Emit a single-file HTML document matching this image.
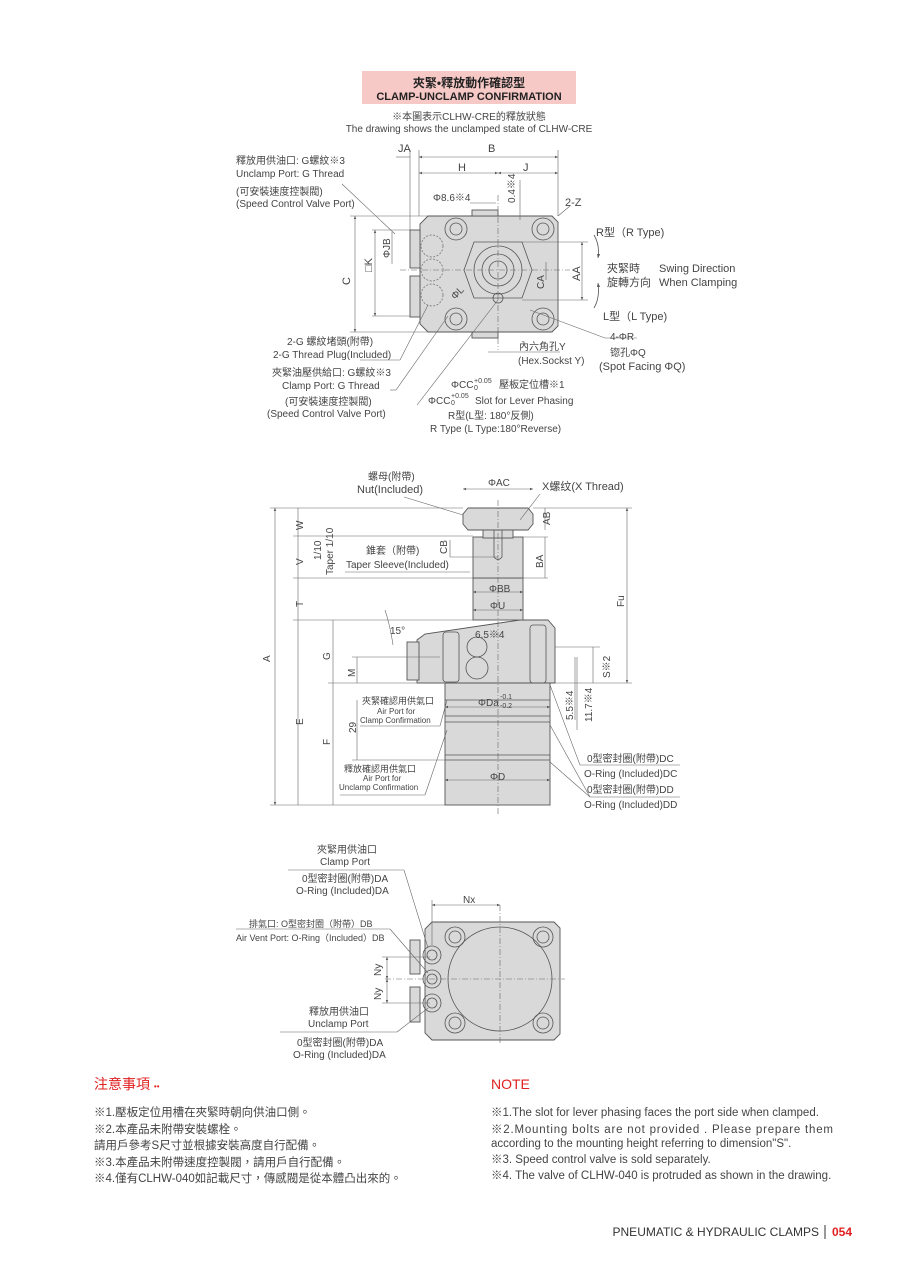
<!DOCTYPE html>
<html><head><meta charset="utf-8"><style>
body{margin:0;background:#fff}
svg{display:block}
text{font-family:"Liberation Sans","Noto Sans CJK TC",sans-serif;fill:#444}
.s{font-size:10px}
.m{font-size:11px}
.l{stroke:#555;stroke-width:.8;fill:none}
.t{stroke:#666;stroke-width:.6;fill:none}
.b{fill:#d9d9d9;stroke:#555;stroke-width:.9}
.d{stroke:#666;stroke-width:.6;fill:none;stroke-dasharray:6 2 1 2}
.ds{stroke:#666;stroke-width:.7;fill:none;stroke-dasharray:2 1.5}
</style></head><body>
<svg width="900" height="1273" viewBox="0 0 900 1273" xmlns="http://www.w3.org/2000/svg">
<defs><marker id="a" markerWidth="6" markerHeight="6" refX="5" refY="3" orient="auto-start-reverse"><path d="M0,1 L5,3 L0,5z" fill="#555"/></marker></defs>
<!-- header -->
<rect x="362" y="71" width="214" height="33" fill="#f7c9c6"/>
<text x="469" y="87" text-anchor="middle" style="font-size:12px;font-weight:bold;fill:#222">夾緊•釋放動作確認型</text>
<text x="469" y="100" text-anchor="middle" style="font-size:11px;font-weight:bold;fill:#222">CLAMP-UNCLAMP CONFIRMATION</text>
<text x="469" y="120" text-anchor="middle" class="s">※本圖表示CLHW-CRE的釋放狀態</text>
<text x="469" y="132" text-anchor="middle" class="s">The drawing shows the unclamped state of CLHW-CRE</text>

<!-- TOP VIEW -->
<path class="b" d="M428,216 H552 L558,222 V326 L552,332 H428 L420,324 V224z"/>
<rect class="b" x="410" y="230" width="10" height="38"/>
<rect class="b" x="410" y="276" width="10" height="41"/>
<rect class="b" x="472" y="210" width="26" height="6"/>
<rect class="b" x="472" y="332" width="26" height="6"/>
<g class="l">
<circle cx="456" cy="229" r="11"/><circle cx="456" cy="229" r="6"/>
<circle cx="543" cy="229" r="11"/><circle cx="543" cy="229" r="6"/>
<circle cx="456" cy="319" r="11"/><circle cx="456" cy="319" r="6"/>
<circle cx="543" cy="319" r="11"/><circle cx="543" cy="319" r="6"/>
<path d="M474,242 L522,242 L532,270 L522,298 L474,298 L464,270z"/>
<circle cx="498" cy="270" r="24"/><circle cx="498" cy="270" r="16"/><circle cx="498" cy="270" r="9"/>
<circle cx="498" cy="298" r="5"/>
</g>
<g class="ds"><circle cx="432" cy="246" r="11"/><circle cx="432" cy="270" r="11"/><circle cx="432" cy="295" r="11"/></g>
<g class="d"><line x1="498" y1="195" x2="498" y2="350"/><line x1="400" y1="270" x2="570" y2="270"/></g>
<!-- dims top -->
<g class="t">
<line x1="419" y1="157" x2="558" y2="157" marker-start="url(#a)" marker-end="url(#a)"/>
<line x1="419" y1="173" x2="498" y2="173" marker-start="url(#a)" marker-end="url(#a)"/>
<line x1="498" y1="173" x2="558" y2="173" marker-start="url(#a)" marker-end="url(#a)"/>
<line x1="419" y1="150" x2="419" y2="216"/><line x1="558" y1="150" x2="558" y2="216"/>
<line x1="410" y1="150" x2="410" y2="230"/><line x1="396" y1="157" x2="410" y2="157"/>
<line x1="355" y1="216" x2="355" y2="332" marker-start="url(#a)" marker-end="url(#a)"/>
<line x1="350" y1="216" x2="428" y2="216"/><line x1="350" y1="332" x2="428" y2="332"/>
<line x1="375" y1="230" x2="375" y2="316" marker-start="url(#a)" marker-end="url(#a)"/>
<line x1="372" y1="230" x2="410" y2="230"/><line x1="372" y1="316" x2="410" y2="316"/>
<line x1="392" y1="232" x2="392" y2="264"/>
<line x1="582" y1="242" x2="582" y2="300" marker-start="url(#a)" marker-end="url(#a)"/>
<line x1="522" y1="242" x2="588" y2="242"/><line x1="522" y1="300" x2="588" y2="300"/>
<line x1="546" y1="262" x2="546" y2="280"/>
<line x1="470" y1="203" x2="496" y2="203"/><line x1="520" y1="180" x2="520" y2="220"/>
<line x1="488" y1="352" x2="560" y2="352"/>
<line x1="395" y1="234" x2="342" y2="184"/>
<line x1="360" y1="360" x2="400" y2="360"/><line x1="400" y1="360" x2="428" y2="305"/>
<line x1="390" y1="390" x2="396" y2="390"/><line x1="396" y1="390" x2="448" y2="316"/>
<line x1="417" y1="405" x2="498" y2="300"/>
<line x1="530" y1="310" x2="605" y2="338"/><line x1="605" y1="338" x2="637" y2="338"/>
<line x1="558" y1="216" x2="570" y2="206"/>
</g>
<path d="M594,235 Q600,245 598,258" class="l" marker-end="url(#a)"/>
<path d="M594,308 Q600,298 598,283" class="l" marker-end="url(#a)"/>
<text x="398" y="152" class="m">JA</text>
<text x="488" y="152" class="m">B</text>
<text x="458" y="171" class="m">H</text>
<text x="523" y="171" class="m">J</text>
<text x="433" y="201" class="s">Φ8.6※4</text>
<text x="515" y="203" class="s" transform="rotate(-90 515 203)">0.4※4</text>
<text x="565" y="206" class="m">2-Z</text>
<text x="350" y="285" class="m" transform="rotate(-90 350 285)">C</text>
<text x="372" y="272" class="m" transform="rotate(-90 372 272)">□K</text>
<text x="390" y="258" class="s" transform="rotate(-90 390 258)">ΦJB</text>
<text x="544" y="289" class="s" transform="rotate(-90 544 289)">CA</text>
<text x="580" y="281" class="m" transform="rotate(-90 580 281)">AA</text>
<text x="455" y="300" class="s" transform="rotate(-45 455 300)">ΦL</text>
<text x="596" y="236" class="m">R型（R Type)</text>
<text x="607" y="272" class="m">夾緊時</text><text x="659" y="272" class="m">Swing Direction</text>
<text x="607" y="286" class="m">旋轉方向</text><text x="659" y="286" class="m">When Clamping</text>
<text x="603" y="320" class="m">L型（L Type)</text>
<text x="610" y="340" class="s">4-ΦR</text>
<text x="610" y="356" class="s">锪孔ΦQ</text>
<text x="599" y="370" class="m">(Spot Facing ΦQ)</text>
<text x="519" y="350" class="s">內六角孔Y</text>
<text x="518" y="364" class="s">(Hex.Sockst Y)</text>
<text x="236" y="164" class="s">釋放用供油口:  G螺紋※3</text>
<text x="236" y="177" class="s">Unclamp Port: G Thread</text>
<text x="236" y="195" class="s">(可安裝速度控製閥)</text>
<text x="236" y="207" class="s">(Speed Control Valve Port)</text>
<text x="287" y="345" class="s">2-G 螺紋堵頭(附帶)</text>
<text x="273" y="358" class="s">2-G Thread Plug(Included)</text>
<text x="272" y="376" class="s">夾緊油壓供給口:  G螺紋※3</text>
<text x="282" y="389" class="s">Clamp Port: G Thread</text>
<text x="285" y="405" class="s">(可安裝速度控製閥)</text>
<text x="267" y="417" class="s">(Speed Control Valve Port)</text>
<text x="451" y="388" class="s">ΦCC</text><text x="474" y="383" style="font-size:7px">+0.05</text><text x="474" y="390" style="font-size:7px">0</text><text x="499" y="388" class="s">壓板定位槽※1</text>
<text x="428" y="404" class="s">ΦCC</text><text x="451" y="398" style="font-size:7px">+0.05</text><text x="451" y="405" style="font-size:7px">0</text><text x="475" y="404" class="s">Slot for Lever Phasing</text>
<text x="448" y="419" class="s">R型(L型: 180°反側)</text>
<text x="430" y="432" class="s">R Type (L Type:180°Reverse)</text>

<!-- SIDE VIEW -->
<rect class="b" x="445" y="683" width="105" height="122"/>
<g class="l"><line x1="445" y1="700" x2="550" y2="700"/><line x1="445" y1="716" x2="550" y2="716"/><line x1="445" y1="722" x2="550" y2="722"/><line x1="445" y1="755" x2="550" y2="755"/><line x1="445" y1="760" x2="550" y2="760"/></g>
<path class="b" d="M417,683 V640 L425,634 L520,620 L548,620 L555,628 V683z"/>
<rect class="b" x="407" y="642" width="12" height="38"/>
<rect class="b" x="473" y="578" width="50" height="42"/>
<rect class="b" x="473" y="537" width="50" height="41"/>
<path class="b" d="M463,514 L468,508 H528 L533,514 V524 L528,530 H468 L463,524z"/>
<rect class="b" x="483" y="530" width="30" height="8"/>
<g class="l">
<circle cx="477" cy="668" r="11"/><circle cx="477" cy="647" r="10"/>
<rect x="443" y="632" width="16" height="50" rx="3"/><rect x="530" y="625" width="16" height="58" rx="3"/>
<path d="M494,530 V557 Q498,562 502,557 V530"/>
</g>
<g class="d"><line x1="498" y1="500" x2="498" y2="815"/></g>
<g class="t">
<line x1="275" y1="508" x2="275" y2="805" marker-start="url(#a)" marker-end="url(#a)"/>
<line x1="298" y1="508" x2="298" y2="805"/>
<line x1="270" y1="508" x2="463" y2="508"/><line x1="270" y1="805" x2="445" y2="805"/>
<line x1="293" y1="536" x2="473" y2="536"/><line x1="293" y1="578" x2="473" y2="578"/>
<line x1="293" y1="620" x2="473" y2="620"/>
<line x1="333" y1="620" x2="333" y2="805"/><line x1="328" y1="683" x2="445" y2="683"/>
<line x1="357" y1="657" x2="357" y2="683"/><line x1="352" y1="657" x2="440" y2="657"/>
<line x1="357" y1="700" x2="357" y2="760"/><line x1="352" y1="760" x2="445" y2="760"/>
<line x1="627" y1="508" x2="627" y2="683" marker-start="url(#a)" marker-end="url(#a)"/>
<line x1="533" y1="508" x2="632" y2="508"/><line x1="555" y1="683" x2="632" y2="683"/>
<line x1="593" y1="647" x2="593" y2="683"/><line x1="555" y1="647" x2="600" y2="647"/>
<line x1="575" y1="657" x2="575" y2="720"/><line x1="577" y1="657" x2="577" y2="730"/>
<line x1="545" y1="508" x2="545" y2="530"/><line x1="523" y1="537" x2="548" y2="537"/>
<line x1="545" y1="537" x2="545" y2="578"/><line x1="523" y1="578" x2="548" y2="578"/>
<line x1="450" y1="540" x2="450" y2="557"/><line x1="450" y1="557" x2="498" y2="557"/>
<line x1="463" y1="489" x2="533" y2="489" marker-start="url(#a)" marker-end="url(#a)"/>
<line x1="473" y1="592" x2="523" y2="592" marker-start="url(#a)" marker-end="url(#a)"/>
<line x1="473" y1="610" x2="523" y2="610" marker-start="url(#a)" marker-end="url(#a)"/>
<line x1="445" y1="707" x2="550" y2="707" marker-start="url(#a)" marker-end="url(#a)"/>
<line x1="445" y1="780" x2="550" y2="780" marker-start="url(#a)" marker-end="url(#a)"/>
<line x1="345" y1="572" x2="470" y2="572"/>
<line x1="404" y1="497" x2="463" y2="515"/><line x1="540" y1="494" x2="520" y2="520"/>
<line x1="360" y1="726" x2="440" y2="726"/><line x1="440" y1="726" x2="447" y2="700"/>
<line x1="340" y1="795" x2="425" y2="795"/><line x1="425" y1="795" x2="447" y2="730"/>
<line x1="580" y1="765" x2="680" y2="765"/><line x1="580" y1="765" x2="550" y2="685"/>
<line x1="590" y1="797" x2="680" y2="797"/><line x1="590" y1="797" x2="550" y2="725"/><line x1="590" y1="797" x2="550" y2="762"/>
<path d="M385,610 Q390,625 393,645"/>
</g>
<text x="368" y="480" class="s">螺母(附帶)</text>
<text x="357" y="493" class="m">Nut(Included)</text>
<text x="488" y="486" class="s">ΦAC</text>
<text x="542" y="490" class="m">X螺纹(X Thread)</text>
<text x="550" y="525" class="s" transform="rotate(-90 550 525)">AB</text>
<text x="303" y="530" class="s" transform="rotate(-90 303 530)">W</text>
<text x="303" y="565" class="s" transform="rotate(-90 303 565)">V</text>
<text x="321" y="560" class="s" transform="rotate(-90 321 560)">1/10</text>
<text x="333" y="575" class="s" transform="rotate(-90 333 575)">Taper 1/10</text>
<text x="366" y="554" class="s">錐套（附帶)</text>
<text x="346" y="568" class="s">Taper Sleeve(Included)</text>
<text x="447" y="554" class="s" transform="rotate(-90 447 554)">CB</text>
<text x="543" y="568" class="s" transform="rotate(-90 543 568)">BA</text>
<text x="489" y="592" class="s">ΦBB</text>
<text x="490" y="609" class="s">ΦU</text>
<text x="303" y="607" class="s" transform="rotate(-90 303 607)">T</text>
<text x="624" y="607" class="s" transform="rotate(-90 624 607)">Fu</text>
<text x="270" y="662" class="s" transform="rotate(-90 270 662)">A</text>
<text x="330" y="660" class="s" transform="rotate(-90 330 660)">G</text>
<text x="355" y="677" class="s" transform="rotate(-90 355 677)">M</text>
<text x="390" y="634" class="s">15°</text>
<text x="475" y="638" class="s">6.5※4</text>
<text x="610" y="678" class="s" transform="rotate(-90 610 678)">S※2</text>
<text x="478" y="706" class="s">ΦDa</text><text x="500" y="699" style="font-size:7px">-0.1</text><text x="500" y="708" style="font-size:7px">-0.2</text>
<text x="573" y="720" class="s" transform="rotate(-90 573 720)">5.5※4</text>
<text x="592" y="722" class="s" transform="rotate(-90 592 722)">11.7※4</text>
<text x="303" y="725" class="s" transform="rotate(-90 303 725)">E</text>
<text x="330" y="745" class="s" transform="rotate(-90 330 745)">F</text>
<text x="356" y="733" class="s" transform="rotate(-90 356 733)">29</text>
<text x="362" y="704" style="font-size:9px">夾緊確認用供氣口</text>
<text x="377" y="714" style="font-size:8px">Air Port for</text>
<text x="360" y="723" style="font-size:8px">Clamp Confirmation</text>
<text x="344" y="772" style="font-size:9px">釋放確認用供氣口</text>
<text x="363" y="781" style="font-size:8px">Air Port for</text>
<text x="339" y="790" style="font-size:8px">Unclamp Confirmation</text>
<text x="490" y="780" class="s">ΦD</text>
<text x="587" y="762" class="s">0型密封圈(附帶)DC</text>
<text x="584" y="777" class="s">O-Ring (Included)DC</text>
<text x="587" y="793" class="s">0型密封圈(附帶)DD</text>
<text x="584" y="808" class="s">O-Ring (Included)DD</text>

<!-- BOTTOM VIEW -->
<path class="b" d="M432,922 H554 L560,928 V1034 L554,1040 H432 L425,1033 V929z"/>
<rect class="b" x="410" y="940" width="10" height="34"/>
<rect class="b" x="410" y="987" width="10" height="35"/>
<g class="l">
<circle cx="500" cy="979" r="52"/>
<circle cx="455" cy="937" r="10"/><circle cx="455" cy="937" r="6"/>
<circle cx="543" cy="937" r="10"/><circle cx="543" cy="937" r="6"/>
<circle cx="455" cy="1023" r="10"/><circle cx="455" cy="1023" r="6"/>
<circle cx="543" cy="1023" r="10"/><circle cx="543" cy="1023" r="6"/>
<circle cx="432" cy="955" r="9"/><circle cx="432" cy="955" r="5"/>
<circle cx="432" cy="979" r="9"/><circle cx="432" cy="979" r="5"/>
<circle cx="432" cy="1003" r="9"/><circle cx="432" cy="1003" r="5"/>
</g>
<g class="d"><line x1="500" y1="905" x2="500" y2="1045"/><line x1="385" y1="979" x2="565" y2="979"/></g>
<g class="t">
<line x1="432" y1="905" x2="500" y2="905" marker-start="url(#a)" marker-end="url(#a)"/>
<line x1="432" y1="900" x2="432" y2="945"/>
<line x1="387" y1="957" x2="387" y2="979" marker-start="url(#a)" marker-end="url(#a)"/>
<line x1="387" y1="979" x2="387" y2="1003" marker-start="url(#a)" marker-end="url(#a)"/>
<line x1="382" y1="957" x2="430" y2="957"/><line x1="382" y1="1003" x2="430" y2="1003"/>
<line x1="288" y1="870" x2="404" y2="870"/><line x1="404" y1="870" x2="428" y2="948"/>
<line x1="236" y1="929" x2="390" y2="929"/><line x1="390" y1="929" x2="428" y2="973"/>
<line x1="280" y1="1032" x2="397" y2="1032"/><line x1="397" y1="1032" x2="428" y2="1008"/>
</g>
<text x="463" y="903" class="s">Nx</text>
<text x="381" y="976" class="s" transform="rotate(-90 381 976)">Ny</text>
<text x="381" y="1000" class="s" transform="rotate(-90 381 1000)">Ny</text>
<text x="317" y="853" class="s">夾緊用供油口</text>
<text x="320" y="865" class="s">Clamp Port</text>
<text x="302" y="882" class="s">0型密封圈(附帶)DA</text>
<text x="296" y="894" class="s">O-Ring (Included)DA</text>
<text x="249" y="927" style="font-size:9px">排氣口: O型密封圈（附帶）DB</text>
<text x="236" y="941" style="font-size:9px">Air Vent Port: O-Ring（Included）DB</text>
<text x="309" y="1015" class="s">釋放用供油口</text>
<text x="308" y="1027" class="s">Unclamp Port</text>
<text x="297" y="1046" class="s">0型密封圈(附帶)DA</text>
<text x="293" y="1058" class="s">O-Ring (Included)DA</text>

<!-- NOTES -->
<text x="94" y="1089" style="font-size:14px;fill:#e02020">注意事項 <tspan style="font-size:8px">••</tspan></text>
<g style="font-size:11.5px">
<text x="94" y="1116">※1.壓板定位用槽在夾緊時朝向供油口側。</text>
<text x="94" y="1133">※2.本產品未附帶安裝螺栓。</text>
<text x="94" y="1149">請用戶參考S尺寸並根據安裝高度自行配備。</text>
<text x="94" y="1166">※3.本產品未附帶速度控製閥，請用戶自行配備。</text>
<text x="94" y="1182">※4.僅有CLHW-040如記載尺寸，傳感閥是從本體凸出來的。</text>
</g>
<text x="491" y="1089" style="font-size:14px;fill:#e02020">NOTE</text>
<g style="font-size:11.5px">
<text x="491" y="1116">※1.The slot for lever phasing faces the port side when clamped.</text>
<text x="491" y="1133" textLength="342" lengthAdjust="spacing">※2.Mounting bolts are not provided . Please prepare them</text>
<text x="491" y="1147">according to the mounting height referring to dimension"S".</text>
<text x="491" y="1163">※3. Speed control valve is sold separately.</text>
<text x="491" y="1179">※4. The valve of CLHW-040 is protruded as shown in the drawing.</text>
</g>
<text x="819" y="1236" text-anchor="end" style="font-size:12px;fill:#333">PNEUMATIC &amp; HYDRAULIC CLAMPS</text>
<line x1="825" y1="1225" x2="825" y2="1239" stroke="#333" stroke-width="1"/>
<text x="852" y="1236" text-anchor="end" style="font-size:12px;font-weight:bold;fill:#e02020">054</text>
</svg>
</body></html>
